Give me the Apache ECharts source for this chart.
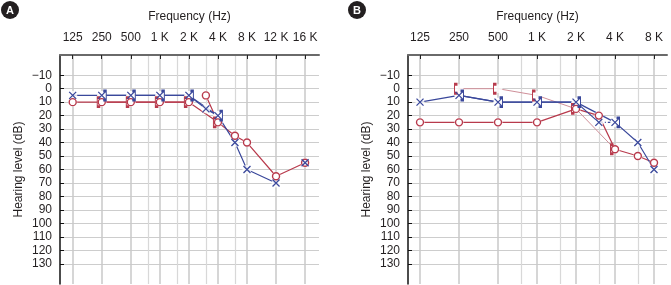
<!DOCTYPE html>
<html><head><meta charset="utf-8">
<script src="https://cdn.jsdelivr.net/npm/echarts@6/dist/echarts.min.js"></script>
<style>html,body{margin:0;padding:0;background:#fff}#c{width:671px;height:285px}</style>
</head><body><div id="c"></div>
<script>
// ---- tick labels / categories ----
const freqTicksA  = [125, 250, 500, 1000, 2000, 4000, 8000, 12000, 16000];
const freqLabelsA = ['125', '250', '500', '1 K', '2 K', '4 K', '8 K', '12 K', '16 K'];
const freqTicksB  = [125, 250, 500, 1000, 2000, 4000, 8000];
const freqLabelsB = ['125', '250', '500', '1 K', '2 K', '4 K', '8 K'];
const minorFreqs  = [750, 1500, 3000, 6000];
const dbTicks     = [-10, 0, 10, 20, 30, 40, 50, 60, 70, 80, 90, 100, 110, 120, 130];

// ---- Panel A ----
const aRightAirFreq  = [125, 250, 500, 1000, 2000, 3000, 4000, 6000, 8000, 12000, 16000];
const aRightAirDb    = [10, 10, 10, 10, 10, 5, 25, 35, 40, 65, 55];
const aRightBoneFreq = [250, 500, 1000, 2000, 4000];
const aRightBoneDb   = [10, 10, 10, 10, 25];
const aLeftAirFreq   = [125, 250, 500, 1000, 2000, 3000, 4000, 6000, 8000, 12000, 16000];
const aLeftAirDb     = [5, 5, 5, 5, 5, 15, 20, 40, 60, 70, 55];
const aLeftBoneFreq  = [250, 500, 1000, 2000, 4000];
const aLeftBoneDb    = [5, 5, 5, 5, 20];

// ---- Panel B ----
const bRightAirFreq  = [125, 250, 500, 1000, 2000, 3000, 4000, 6000, 8000];
const bRightAirDb    = [25, 25, 25, 25, 15, 20, 45, 50, 55];
const bRightBoneFreq = [250, 500, 1000, 2000, 4000];
const bRightBoneDb   = [0, 0, 5, 15, 45];
const bLeftAirFreq   = [125, 250, 500, 1000, 2000, 3000, 4000, 6000, 8000];
const bLeftAirDb     = [10, 5, 10, 10, 10, 25, 25, 40, 60];
const bLeftBoneFreq  = [250, 500, 1000, 2000, 4000];
const bLeftBoneDb    = [5, 10, 10, 10, 25];

const RED = '#b83a4c', BLUE = '#3a489b', PINK = '#cf8f99';

function hasFont(name) {
  const c = document.createElement('canvas').getContext('2d');
  const t = 'Frequency (Hz) 125';
  c.font = '20px monospace';
  const w1 = c.measureText(t).width;
  c.font = '20px "' + name + '", monospace';
  return Math.abs(c.measureText(t).width - w1) > 0.5;
}
let FONT = '"Liberation Sans", Arial, Helvetica, sans-serif', FS = 12;
if (hasFont('Liberation Sans Narrow')) { FONT = '"Liberation Sans Narrow", "Liberation Sans", Arial, sans-serif'; FS = 13; }
else if (hasFont('Arial Narrow')) { FONT = '"Arial Narrow", "Liberation Sans", Arial, sans-serif'; FS = 13; }

function P(f, ticks) {
  for (let i = 0; i < ticks.length - 1; i++) {
    if (f >= ticks[i] && f <= ticks[i + 1]) return i + Math.log(f / ticks[i]) / Math.log(ticks[i + 1] / ticks[i]);
  }
  return 0;
}

const series = [];
function addLine(freqs, dbs, ticks, panel, color, width, breaks, dashedAfter) {
  breaks = breaks || []; dashedAfter = dashedAfter || [];
  let run = [];
  const push = (data, type) => {
    if (data.length > 1) series.push({
      type: 'line', xAxisIndex: panel * 2, yAxisIndex: panel, data: data, symbol: 'none',
      silent: true, z: 2, animation: false, lineStyle: { color: color, width: width, type: type }
    });
  };
  for (let i = 0; i < freqs.length; i++) {
    run.push([P(freqs[i], ticks), dbs[i]]);
    if (breaks.includes(freqs[i])) { push(run, 'solid'); run = []; }
    else if (dashedAfter.includes(freqs[i]) && i + 1 < freqs.length) {
      push(run, 'solid'); run = [];
      push([[P(freqs[i], ticks), dbs[i]], [P(freqs[i + 1], ticks), dbs[i + 1]]], [4, 2, 1, 2]);
    }
  }
  push(run, 'solid');
}

const SYM = {
  circle: { symbol: 'circle', size: 7, offset: [0, 0], fill: '#fff', color: RED, bw: 1.4 },
  cross: { symbol: 'path://M0,0L10,10M10,0L0,10', size: 7, offset: [0, 0], fill: 'transparent', color: BLUE, bw: 1.3 },
  lbr: { symbol: 'path://M4,0L0,0L0,10L4,10', size: [3, 9], offset: [-3, 0], fill: 'transparent', color: RED, bw: 1.7 },
  rbr: { symbol: 'path://M0,0L4,0L4,10L0,10', size: [3, 9], offset: [3, 0], fill: 'transparent', color: BLUE, bw: 1.7 }
};
function addMarkers(freqs, dbs, ticks, panel, kind) {
  const s = SYM[kind];
  const data = freqs.map((f, i) => [P(f, ticks), dbs[i]]);
  series.push({
    type: 'scatter', xAxisIndex: panel * 2, yAxisIndex: panel, data: data, silent: true, z: 3,
    symbol: 'circle', symbolSize: 9, itemStyle: { color: '#fff' }, animation: false
  });
  series.push({
    type: 'scatter', xAxisIndex: panel * 2, yAxisIndex: panel, data: data, silent: true, z: 4,
    symbol: s.symbol, symbolSize: s.size, symbolOffset: s.offset, animation: false,
    itemStyle: { color: s.fill, borderColor: s.color, borderWidth: s.bw, opacity: 1 }
  });
}

// Panel A lines
addLine(aRightAirFreq, aRightAirDb, freqTicksA, 0, RED, 1.2, [2000]);
addLine(aRightBoneFreq, aRightBoneDb, freqTicksA, 0, RED, 1.2);
addLine(aLeftAirFreq, aLeftAirDb, freqTicksA, 0, BLUE, 1.2, [12000]);
addLine(aLeftBoneFreq, aLeftBoneDb, freqTicksA, 0, BLUE, 1.2);
// Panel B lines
addLine(bRightAirFreq, bRightAirDb, freqTicksB, 1, RED, 1.2);
addLine(bRightBoneFreq, bRightBoneDb, freqTicksB, 1, PINK, 1);
addLine(bLeftAirFreq, bLeftAirDb, freqTicksB, 1, BLUE, 1.2, [], [3000]);
addLine(bLeftBoneFreq, bLeftBoneDb, freqTicksB, 1, BLUE, 1.2);

// markers
addMarkers(aRightAirFreq, aRightAirDb, freqTicksA, 0, 'circle');
addMarkers(aRightBoneFreq, aRightBoneDb, freqTicksA, 0, 'lbr');
addMarkers(aLeftBoneFreq, aLeftBoneDb, freqTicksA, 0, 'rbr');
addMarkers(aLeftAirFreq, aLeftAirDb, freqTicksA, 0, 'cross');
addMarkers(bRightAirFreq, bRightAirDb, freqTicksB, 1, 'circle');
addMarkers(bRightBoneFreq, bRightBoneDb, freqTicksB, 1, 'lbr');
addMarkers(bLeftBoneFreq, bLeftBoneDb, freqTicksB, 1, 'rbr');
addMarkers(bLeftAirFreq, bLeftAirDb, freqTicksB, 1, 'cross');

function xAxes(grid, ticks, labels, min, max) {
  const majors = ticks.map((f, i) => i);
  const minors = minorFreqs.filter(f => f < ticks[ticks.length - 1]).map(f => P(f, ticks));
  return [{
    type: 'value', gridIndex: grid, position: 'top', min: min, max: max,
    axisLine: { show: true, onZero: false, lineStyle: { color: '#6a6a6a', width: 2 } },
    axisTick: { show: true, inside: true, length: 4, customValues: majors, lineStyle: { color: '#222', width: 1 } },
    axisLabel: { customValues: majors, formatter: v => labels[Math.round(v)], margin: 11, color: '#231f20', fontSize: FS, fontFamily: FONT },
    splitLine: { show: true, lineStyle: { color: '#c8c8c8', width: 1.5 } },
    name: 'Frequency (Hz)', nameLocation: 'middle', nameGap: 32,
    nameTextStyle: { color: '#231f20', fontSize: FS, fontFamily: FONT }
  }, {
    type: 'value', gridIndex: grid, position: 'top', min: min, max: max,
    axisLine: { show: false, onZero: false }, axisLabel: { show: false },
    axisTick: { show: false, customValues: minors },
    splitLine: { show: true, lineStyle: { color: '#d8d8d8', width: 1.2 } }
  }];
}
function yAxis(grid) {
  return {
    type: 'value', gridIndex: grid, inverse: true, min: -25, max: 145,
    axisLine: { show: true, onZero: false, lineStyle: { color: '#111', width: 1.5 } },
    axisTick: { show: true, inside: true, length: 4, customValues: dbTicks, lineStyle: { color: '#111' } },
    axisLabel: { customValues: dbTicks, margin: 8, color: '#231f20', fontSize: FS, fontFamily: FONT,
      formatter: v => v < 0 ? '\u2212' + (-v) : String(v) },
    splitLine: { show: true, lineStyle: { color: '#cdcdcd', width: 1 } },
    name: 'Hearing level (dB)', nameLocation: 'middle', nameGap: 35, nameRotate: 90,
    nameTextStyle: { color: '#231f20', fontSize: FS, fontFamily: FONT }
  };
}

const chart = echarts.init(document.getElementById('c'), null, { renderer: 'canvas' });
chart.setOption({
  animation: false,
  backgroundColor: '#fff',
  grid: [
    { left: 60, top: 55, width: 259, height: 229, outerBoundsMode: 'none', containLabel: false },
    { left: 408, top: 55, width: 259, height: 229, outerBoundsMode: 'none', containLabel: false }
  ],
  xAxis: [].concat(xAxes(0, freqTicksA, freqLabelsA, -0.437, 8.479), xAxes(1, freqTicksB, freqLabelsB, -0.308, 6.333)),
  yAxis: [yAxis(0), yAxis(1)],
  series: series,
  graphic: [
    { type: 'circle', shape: { cx: 10, cy: 10, r: 9 }, style: { fill: '#231f20' } },
    { type: 'text', x: 10, y: 10.5, style: { text: 'A', fill: '#fff', font: 'bold 11px "Liberation Sans", Arial, sans-serif', align: 'center', verticalAlign: 'middle' } },
    { type: 'circle', shape: { cx: 357, cy: 10, r: 9 }, style: { fill: '#231f20' } },
    { type: 'text', x: 357, y: 10.5, style: { text: 'B', fill: '#fff', font: 'bold 11px "Liberation Sans", Arial, sans-serif', align: 'center', verticalAlign: 'middle' } }
  ]
});
</script></body></html>
